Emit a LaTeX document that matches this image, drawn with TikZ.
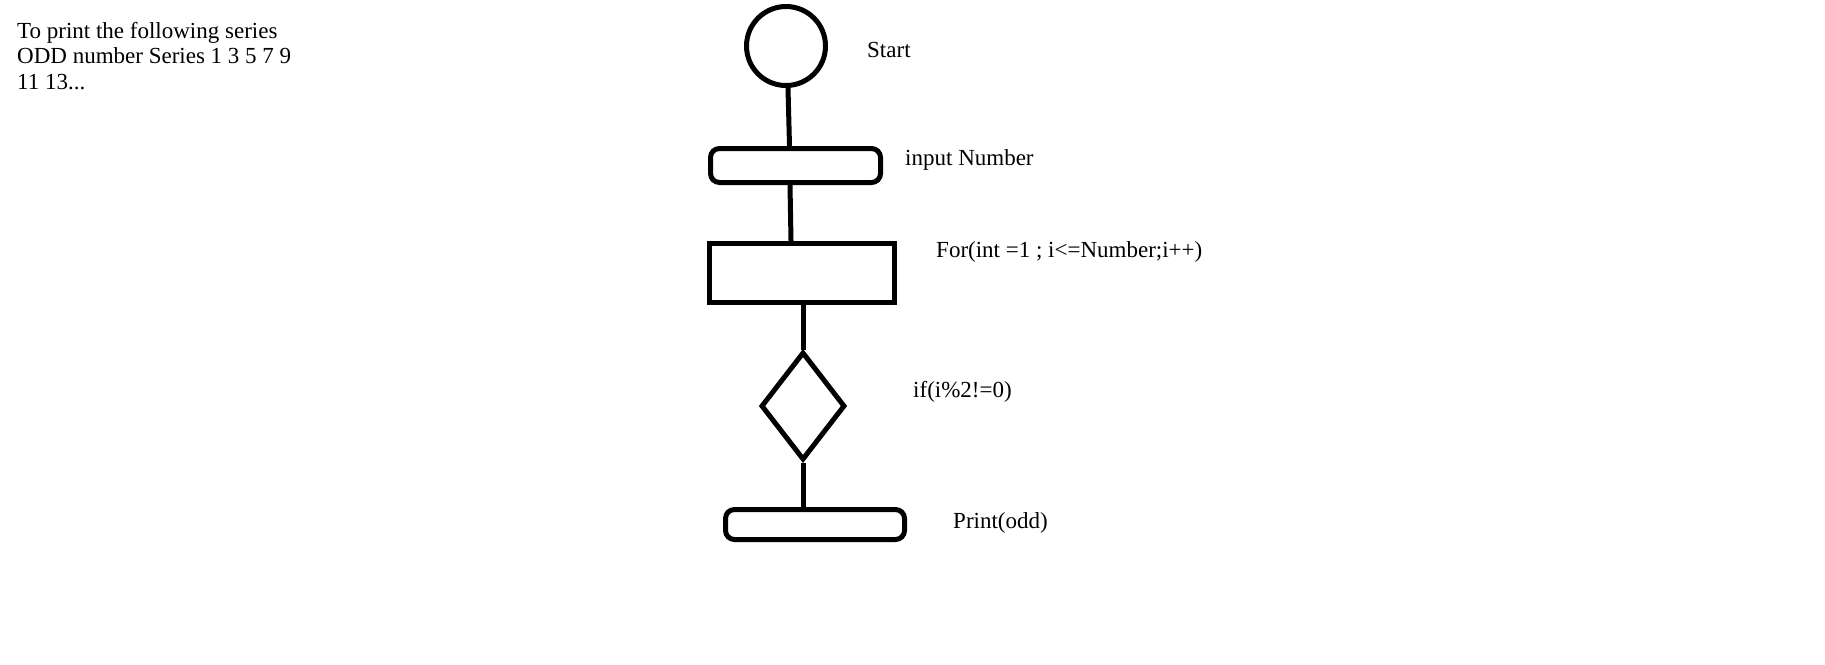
\documentclass[tikz,border=0pt]{standalone}
\usepackage{fontspec}
\setmainfont{Liberation Serif}
\usetikzlibrary{shapes.geometric}
\begin{document}
\begin{tikzpicture}[x=1pt,y=-1pt,
  shapeline/.style={draw=black, line width=5pt, inner sep=0pt},
  lbl/.style={inner sep=0pt, anchor=base west, font=\fontsize{23}{26}\selectfont},
  conn/.style={draw=black, line width=5pt}]
\useasboundingbox[fill=white] (0,0) rectangle (1825,664);
% title
\node[lbl] (title1) at (17,38) {To print the following series};
\node[lbl] (title2) at (17,63) {ODD number Series 1 3 5 7 9};
\node[lbl] (title3) at (17,89) {11 13...};
% shapes
\node[shapeline, circle, minimum size=79pt] (start) at (786,46) {};
\node[shapeline, rectangle, rounded corners=9pt, minimum width=170pt, minimum height=34pt] (input) at (795.5,165.5) {};
\node[shapeline, rectangle, minimum width=185pt, minimum height=59pt] (forbox) at (802,273) {};
\node[shapeline, diamond, minimum width=84pt, minimum height=108pt] (dec) at (803,406) {};
\node[shapeline, rectangle, rounded corners=9pt, minimum width=179pt, minimum height=30pt] (print) at (815,524.5) {};
% labels
\node[lbl] (tstart) at (867,57) {Start};
\node[lbl] (tinput) at (905,165) {input Number};
\node[lbl] (tfor) at (936,257) {For(int =1 ; i<=Number;i++)};
\node[lbl] (tif) at (913,397) {if(i\%2!=0)};
\node[lbl] (tprint) at (953,528) {Print(odd)};
% connectors
\draw[conn] ([xshift=2pt]start.south) -- ([xshift=-6pt]input.north);
\draw[conn] ([xshift=-5.5pt]input.south) -- ([xshift=-11pt]forbox.north);
\draw[conn] ([xshift=1pt]forbox.south) -- (dec.north);
\draw[conn] (dec.south) -- (dec.south |- print.north);
\end{tikzpicture}
\end{document}
